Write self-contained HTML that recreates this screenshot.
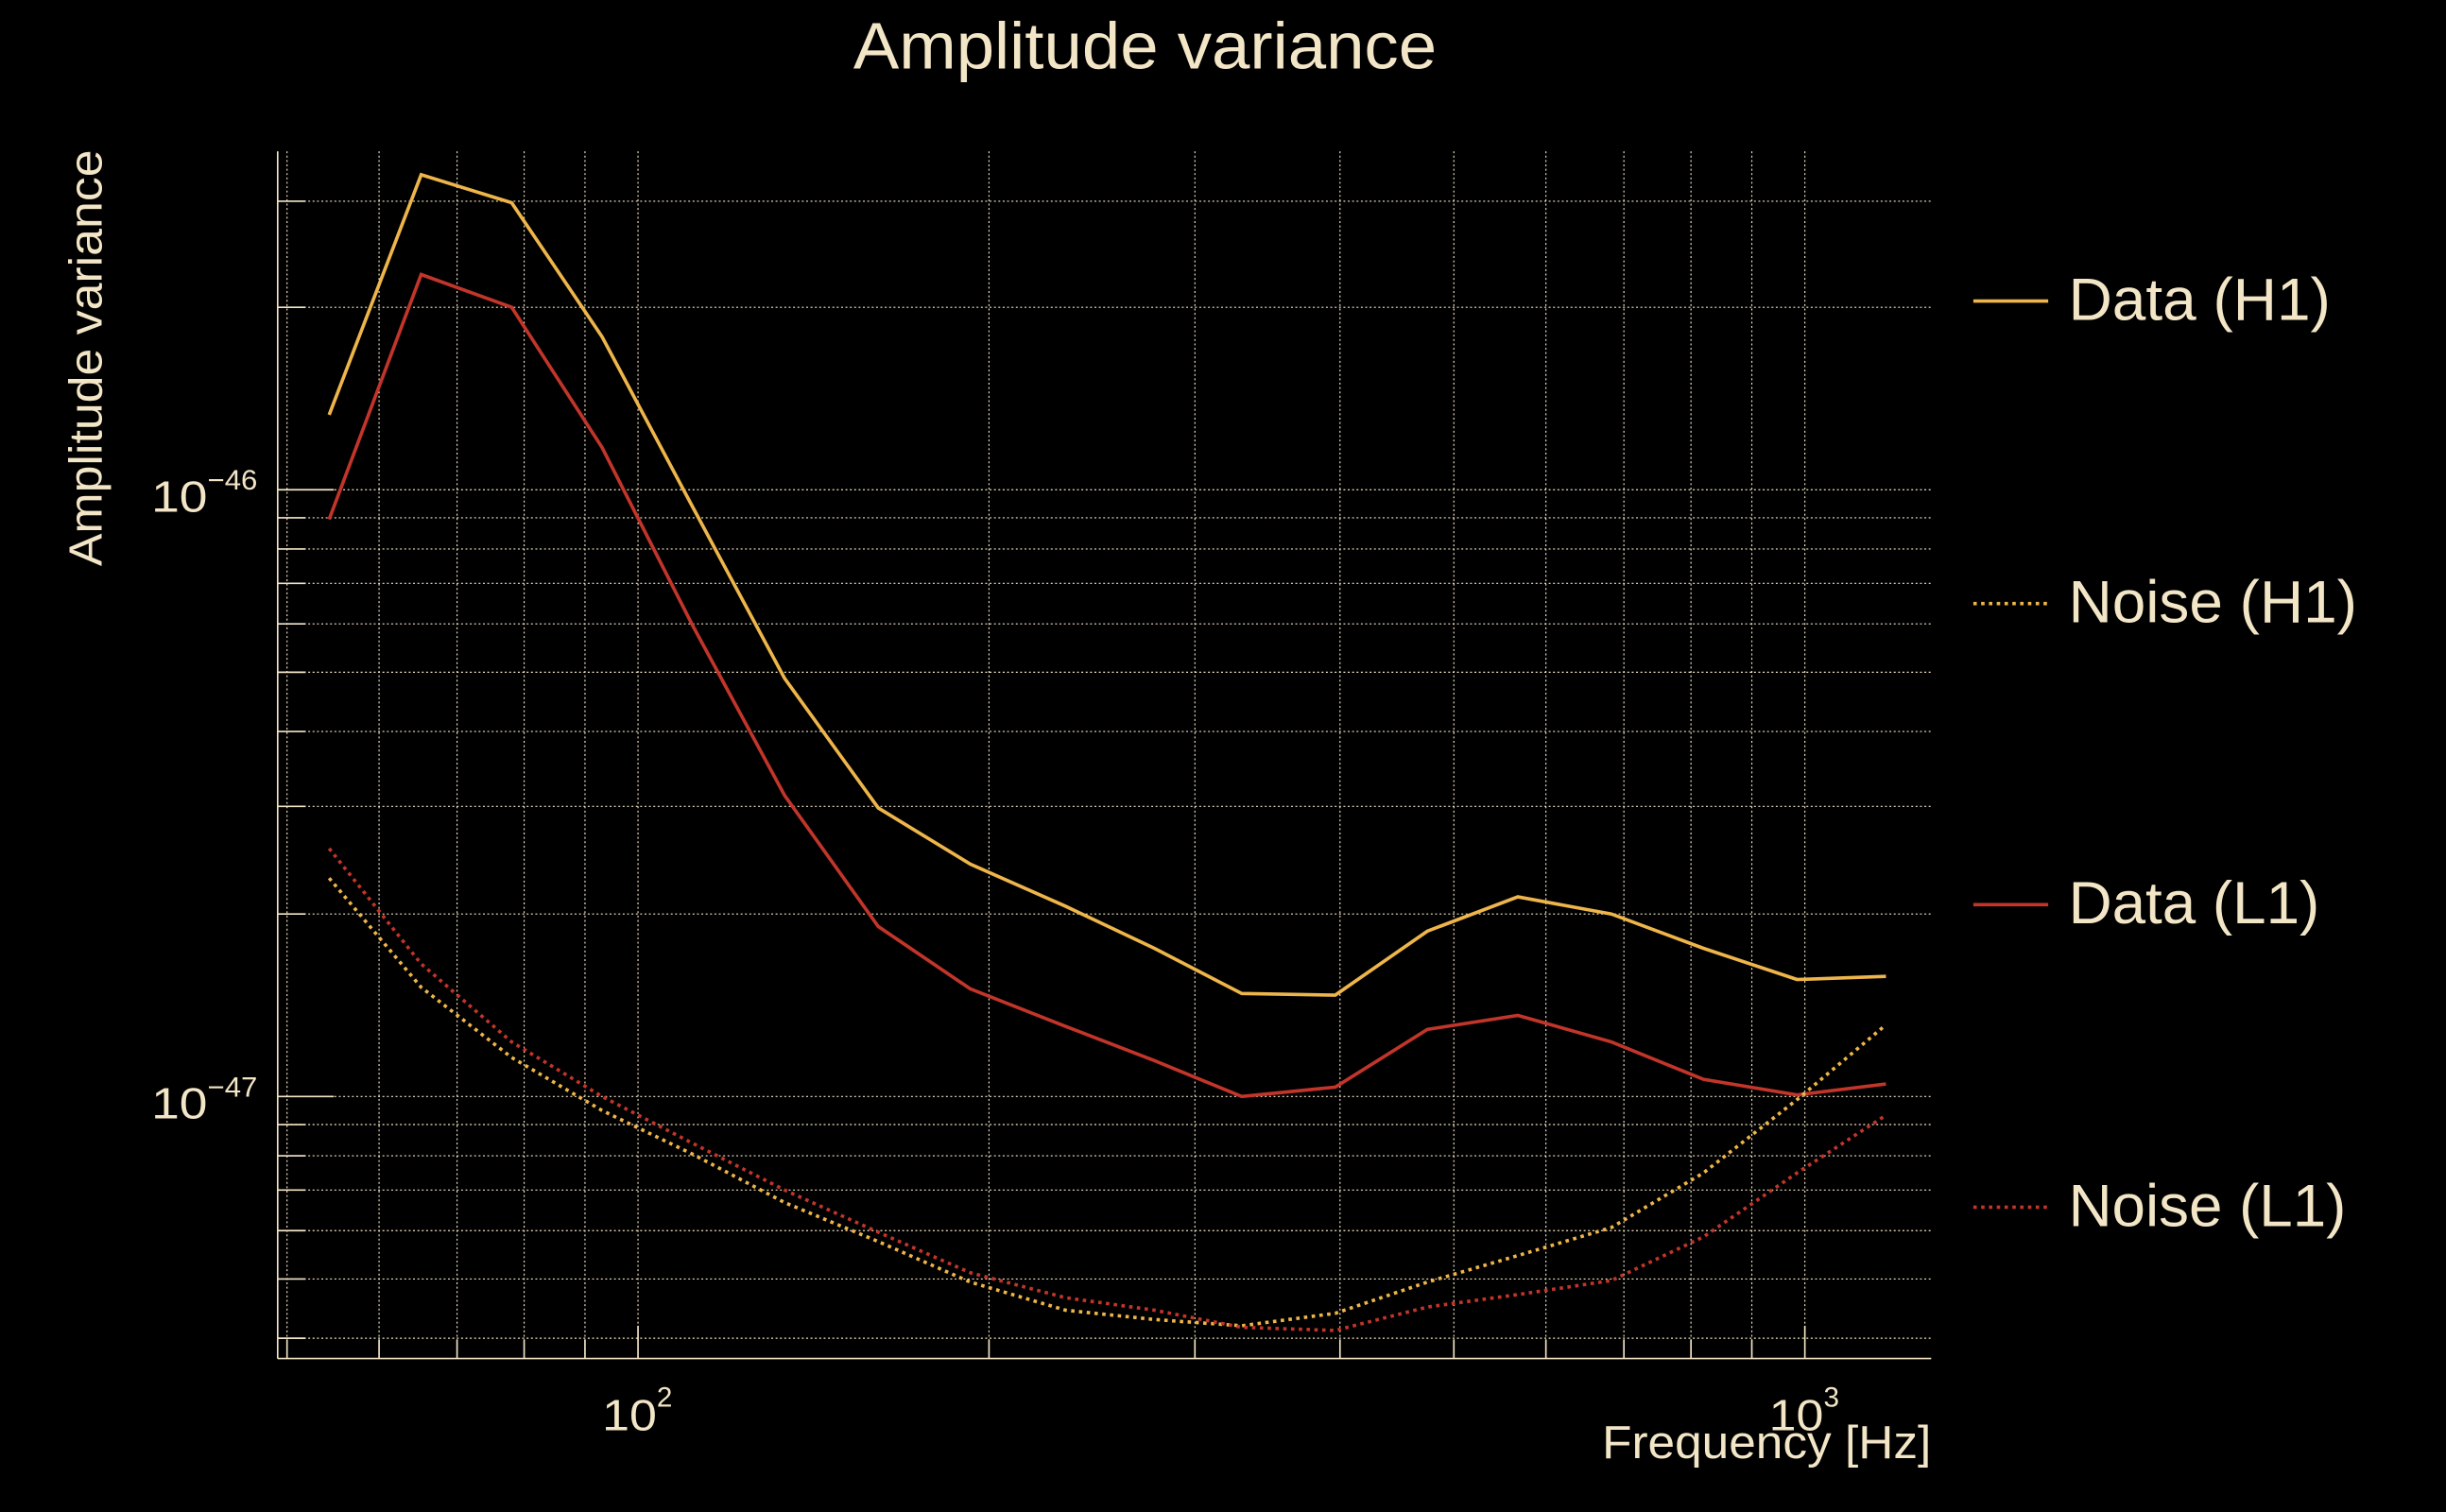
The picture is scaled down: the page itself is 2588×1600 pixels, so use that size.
<!DOCTYPE html>
<html><head><meta charset="utf-8"><style>html,body{margin:0;padding:0;background:#000;}svg{display:block;}</style></head>
<body>
<svg width="2588" height="1600" viewBox="0 0 1568 969.4" preserveAspectRatio="none" xmlns="http://www.w3.org/2000/svg" font-family="Liberation Sans, sans-serif" fill="#f3e6c7">
<rect x="0" y="0" width="1568" height="970" fill="#000"/>
<g stroke="#f3e6c7" stroke-width="0.7" stroke-dasharray="1.2 1.6" fill="none">
<line x1="184" y1="97" x2="184" y2="871"/><line x1="243" y1="97" x2="243" y2="871"/><line x1="293" y1="97" x2="293" y2="871"/><line x1="336" y1="97" x2="336" y2="871"/><line x1="375" y1="97" x2="375" y2="871"/><line x1="409" y1="97" x2="409" y2="871"/>
<line x1="634" y1="97" x2="634" y2="871"/><line x1="766" y1="97" x2="766" y2="871"/><line x1="859" y1="97" x2="859" y2="871"/><line x1="932" y1="97" x2="932" y2="871"/><line x1="991" y1="97" x2="991" y2="871"/><line x1="1041" y1="97" x2="1041" y2="871"/><line x1="1084" y1="97" x2="1084" y2="871"/><line x1="1123" y1="97" x2="1123" y2="871"/><line x1="1157" y1="97" x2="1157" y2="871"/>
<line x1="178" y1="129" x2="1238" y2="129"/><line x1="178" y1="197" x2="1238" y2="197"/><line x1="178" y1="314" x2="1238" y2="314"/><line x1="178" y1="332" x2="1238" y2="332"/><line x1="178" y1="352" x2="1238" y2="352"/><line x1="178" y1="374" x2="1238" y2="374"/><line x1="178" y1="400" x2="1238" y2="400"/><line x1="178" y1="431" x2="1238" y2="431"/><line x1="178" y1="469" x2="1238" y2="469"/><line x1="178" y1="517" x2="1238" y2="517"/><line x1="178" y1="586" x2="1238" y2="586"/><line x1="178" y1="703" x2="1238" y2="703"/><line x1="178" y1="721" x2="1238" y2="721"/><line x1="178" y1="741" x2="1238" y2="741"/><line x1="178" y1="763" x2="1238" y2="763"/><line x1="178" y1="789" x2="1238" y2="789"/><line x1="178" y1="820" x2="1238" y2="820"/><line x1="178" y1="858" x2="1238" y2="858"/>
</g>
<g stroke="#f3e6c7" stroke-width="1" fill="none">
<line x1="178" y1="97" x2="178" y2="871"/><line x1="178" y1="871" x2="1238" y2="871"/>
<line x1="178" y1="129" x2="196" y2="129"/><line x1="178" y1="197" x2="196" y2="197"/><line x1="178" y1="314" x2="214" y2="314"/><line x1="178" y1="332" x2="196" y2="332"/><line x1="178" y1="352" x2="196" y2="352"/><line x1="178" y1="374" x2="196" y2="374"/><line x1="178" y1="400" x2="196" y2="400"/><line x1="178" y1="431" x2="196" y2="431"/><line x1="178" y1="469" x2="196" y2="469"/><line x1="178" y1="517" x2="196" y2="517"/><line x1="178" y1="586" x2="196" y2="586"/><line x1="178" y1="703" x2="214" y2="703"/><line x1="178" y1="721" x2="196" y2="721"/><line x1="178" y1="741" x2="196" y2="741"/><line x1="178" y1="763" x2="196" y2="763"/><line x1="178" y1="789" x2="196" y2="789"/><line x1="178" y1="820" x2="196" y2="820"/><line x1="178" y1="858" x2="196" y2="858"/>
<line x1="184" y1="859" x2="184" y2="871"/><line x1="243" y1="859" x2="243" y2="871"/><line x1="293" y1="859" x2="293" y2="871"/><line x1="336" y1="859" x2="336" y2="871"/><line x1="375" y1="859" x2="375" y2="871"/><line x1="409" y1="850" x2="409" y2="871"/>
<line x1="634" y1="859" x2="634" y2="871"/><line x1="766" y1="859" x2="766" y2="871"/><line x1="859" y1="859" x2="859" y2="871"/><line x1="932" y1="859" x2="932" y2="871"/><line x1="991" y1="859" x2="991" y2="871"/><line x1="1041" y1="859" x2="1041" y2="871"/><line x1="1084" y1="859" x2="1084" y2="871"/><line x1="1123" y1="859" x2="1123" y2="871"/><line x1="1157" y1="850" x2="1157" y2="871"/>
</g>
<g fill="none" stroke-width="2.2" stroke-linejoin="miter">
<polyline stroke="#eeb54a" points="211,266 270,112 328,130 386,216 444,325 503,435 563,518 622,554 683,581 740,608 796,637 856,638 915,597 973,575 1033,586 1092,608 1152,628 1209,626"/>
<polyline stroke="#c1352a" points="211,333 270,176 328,197 386,287 444,401 503,510 563,594 622,634 683,658 740,680 796,703 856,697 915,660 973,651 1033,668 1092,692 1152,702 1209,695"/>
<polyline stroke="#eeb54a" stroke-dasharray="2.2 2.8" points="211,563 270,633 328,678 386,712 444,740 503,771 563,796 622,822 683,840 740,846 796,850 856,842 915,822 973,805 1033,787 1092,752 1152,705 1209,657"/>
<polyline stroke="#c1352a" stroke-dasharray="2.2 2.8" points="211,544 270,618 328,668 386,703 444,733 503,763 563,790 622,816 683,832 740,840 796,851 856,853 915,838 973,830 1033,821 1092,793 1152,752 1209,715"/>
<line x1="1265" y1="193" x2="1313" y2="193" stroke="#eeb54a"/>
<line x1="1265" y1="387" x2="1313" y2="387" stroke="#eeb54a" stroke-dasharray="2.2 2.8"/>
<line x1="1265" y1="580" x2="1313" y2="580" stroke="#c1352a"/>
<line x1="1265" y1="774" x2="1313" y2="774" stroke="#c1352a" stroke-dasharray="2.2 2.8"/>
</g>
<text x="547" y="44" font-size="42" textLength="374" lengthAdjust="spacingAndGlyphs">Amplitude variance</text>
<text transform="translate(65,363) rotate(-90)" font-size="30" textLength="267" lengthAdjust="spacingAndGlyphs">Amplitude variance</text>
<text x="1027" y="935" font-size="30" textLength="211" lengthAdjust="spacingAndGlyphs">Frequency [Hz]</text>
<text x="97" y="328" font-size="28" textLength="36" lengthAdjust="spacingAndGlyphs">10</text>
<text x="133" y="314" font-size="18" textLength="32" lengthAdjust="spacingAndGlyphs">−46</text>
<text x="97" y="717" font-size="28" textLength="36" lengthAdjust="spacingAndGlyphs">10</text>
<text x="133" y="703" font-size="18" textLength="32" lengthAdjust="spacingAndGlyphs">−47</text>
<text x="386" y="917" font-size="28" textLength="35" lengthAdjust="spacingAndGlyphs">10</text>
<text x="421" y="902" font-size="18">2</text>
<text x="1134" y="917" font-size="28" textLength="35" lengthAdjust="spacingAndGlyphs">10</text>
<text x="1169" y="902" font-size="18">3</text>
<text x="1326" y="205" font-size="38" textLength="168" lengthAdjust="spacingAndGlyphs">Data (H1)</text>
<text x="1326" y="399" font-size="38" textLength="185" lengthAdjust="spacingAndGlyphs">Noise (H1)</text>
<text x="1326" y="592" font-size="38" textLength="161" lengthAdjust="spacingAndGlyphs">Data (L1)</text>
<text x="1326" y="786" font-size="38" textLength="178" lengthAdjust="spacingAndGlyphs">Noise (L1)</text>
</svg>
</body></html>
